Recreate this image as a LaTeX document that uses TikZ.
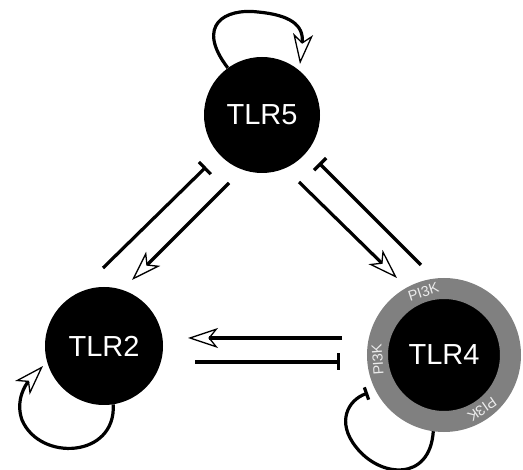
\documentclass[tikz,border=0pt]{standalone}
\usepackage{fontspec}
\setmainfont{Liberation Sans}
\usetikzlibrary{arrows.meta,calc}
\tikzset{
  receptor/.style={circle, fill=black, inner sep=0pt, text=white,
    font=\fontsize{29}{30}\selectfont},
  link/.style={line width=3.2pt},
  act/.style={link, -{Stealth[open, length=30pt, width=20pt, inset=8pt, line width=1.3pt]}},
  inh/.style={link, -{Bar[width=17pt]}},
  kinase/.style={text=black!8, inner sep=0pt, font=\fontsize{14.5}{15}\selectfont},
}
\begin{document}
\begin{tikzpicture}[x=1pt, y=-1pt]
\useasboundingbox (0,0) rectangle (523,470);

% receptors
\node[receptor, minimum size=116pt] (t5) at (262,115) {TLR5};
\node[receptor, minimum size=118pt] (t2) at (104,346) {TLR2};
\node[receptor, minimum size=133pt, draw=black!50, line width=21pt,
      outer sep=10.5pt] (t4) at (444,355) {TLR4};

% PI3K ring labels
\node[kinase, rotate=18]   (k1) at ($(t4)+(108:66.5pt)$) {PI3K};
\node[kinase, rotate=94]   (k2) at ($(t4)+(184:66.5pt)$) {PI3K};
\node[kinase, rotate=-145] (k3) at ($(t4)+(-55:66.5pt)$) {PI3K};

% free ends of the connectors
\coordinate (a25s) at (103,268); \coordinate (a25e) at (206,167);
\coordinate (a52s) at (229,183); \coordinate (a52e) at (132,280);
\coordinate (a54s) at (299,182); \coordinate (a54e) at (397,278);
\coordinate (a45s) at (421,265); \coordinate (a45e) at (319,163);
\coordinate (a42s) at (342,338); \coordinate (a42e) at (188,338);
\coordinate (a24s) at (195,362); \coordinate (a24e) at (340,362);
\coordinate (l5) at (300,64);
\coordinate (l2) at (43,366);
\coordinate (l4) at (368,393);

% cross-talk between receptors
\draw[inh] (a25s) -- (a25e);
\draw[act] (a52s) -- (a52e);
\draw[act] (a54s) -- (a54e);
\draw[inh] (a45s) -- (a45e);
\draw[act] (a42s) -- (a42e);
\draw[inh] (a24s) -- (a24e);

% self-regulation loops
\draw[act] (t5.126) .. controls (195,25) and (225,8) .. (258,12)
           .. controls (290,15) and (304,25) .. (l5);
\draw[act] (t2.-81) .. controls (116,458) and (40,462) .. (22,420)
           .. controls (15,400) and (26,384) .. (l2);
\draw[link, -{Bar[width=13pt]}] (t4.-98) .. controls (430,482) and (380,478) .. (356,447)
           .. controls (336,422) and (348,400) .. (l4);
\end{tikzpicture}
\end{document}
